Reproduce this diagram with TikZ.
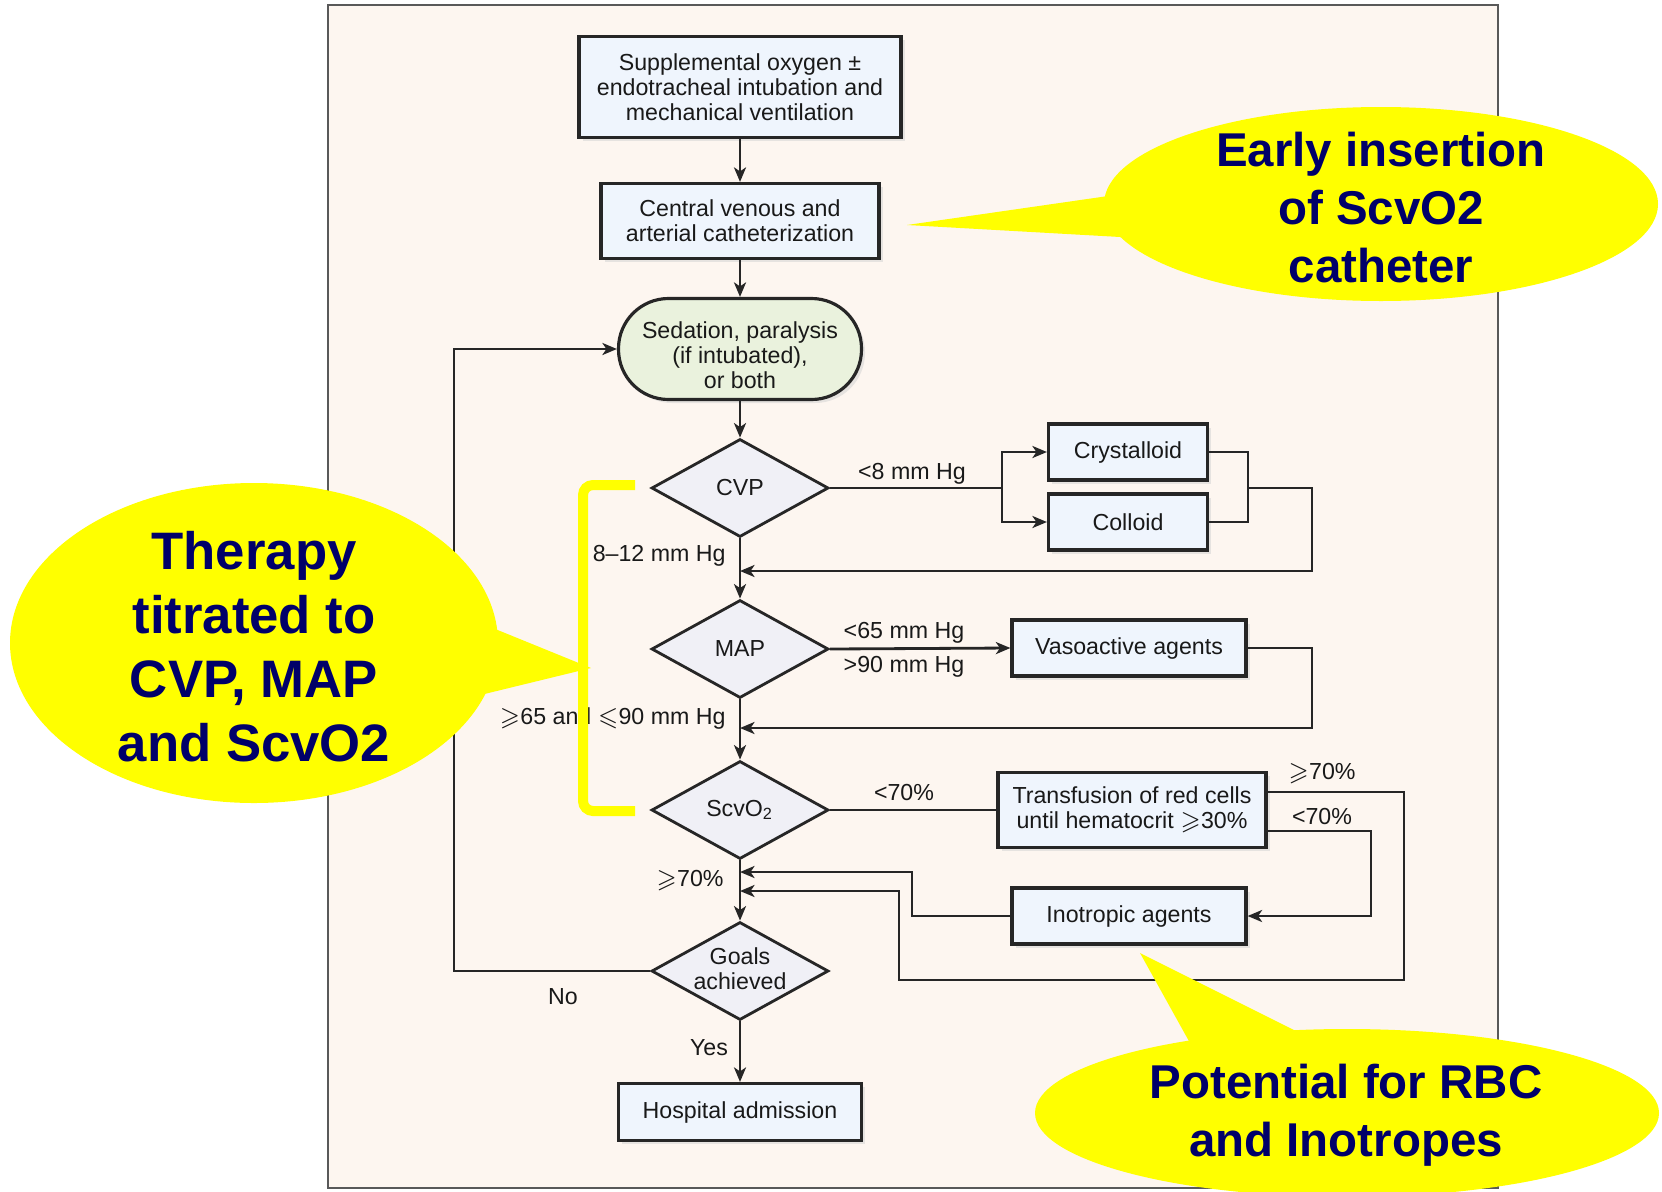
\documentclass[tikz,border=0pt]{standalone}
\usepackage{fontspec}
\setmainfont{Liberation Sans}
\usepackage{amssymb}
\usetikzlibrary{shapes.geometric,arrows.meta,shadows}
\definecolor{framebg}{RGB}{253,246,240}
\definecolor{boxfill}{RGB}{239,245,253}
\definecolor{termfill}{RGB}{234,242,221}
\definecolor{diafill}{RGB}{240,240,246}
\definecolor{callyellow}{RGB}{255,255,0}
\definecolor{navytext}{RGB}{0,0,105}
\begin{document}
\begin{tikzpicture}[x=0.1mm,y=-0.1mm,
  flowtext/.style={font=\fontsize{6.6}{7.1}\selectfont, align=center, text=black!90},
  shadowed/.style={drop shadow={shadow xshift=0.35mm, shadow yshift=-0.35mm, fill=black!18}},
  procbox/.style={flowtext, rectangle, draw=black!85, line width=0.9pt, fill=boxfill, inner sep=0pt, shadowed},
  termbox/.style={flowtext, rectangle, rounded corners=5mm, draw=black!85, line width=0.9pt, fill=termfill, inner sep=0pt, shadowed},
  dia/.style={flowtext, diamond, draw=black!85, line width=0.8pt, fill=diafill, inner sep=0pt, minimum width=17.7mm, minimum height=9.8mm},
  conn/.style={draw=black!85, line width=0.8pt},
  arr/.style={conn, -{Stealth[length=1.45mm,width=1.2mm,inset=0.4mm]}},
  lbl/.style={flowtext, inner sep=0.5pt},
  calltext/.style={align=center, text=navytext, font=\bfseries\fontsize{13.5}{16.5}\selectfont},
]
\useasboundingbox (0,0) rectangle (1662,1191);
\fill[white] (0,0) rectangle (1662,1191);
% frame
\draw[fill=framebg, draw=black!65, line width=0.6pt] (328,5) rectangle (1498,1188);

% main column
\node[procbox, minimum width=32.2mm, minimum height=10.1mm] (oxy) at (740,87) {Supplemental oxygen ±\\endotracheal intubation and\\mechanical ventilation};
\node[procbox, minimum width=27.8mm, minimum height=7.5mm] (cath) at (740,221) {Central venous and\\arterial catheterization};
\node[termbox, minimum width=24.3mm, minimum height=10.1mm] (sed) at (740,349) {};
\node[flowtext] (sedtext) at (740,355) {Sedation, paralysis\\(if intubated),\\or both};
\node[dia] (cvp) at (740,488) {CVP};
\node[dia] (map) at (740,649) {MAP};
\node[dia] (scv) at (740,810) {ScvO\textsubscript{2}};
\node[dia] (goals) at (740,971) {};
\node[flowtext] (goalstext) at (740,969) {Goals\\achieved};
\node[procbox, minimum width=24.3mm, minimum height=5.7mm] (hosp) at (740,1112) {Hospital admission};

% side boxes
\node[procbox, minimum width=15.9mm, minimum height=5.6mm] (cry) at (1128,452) {Crystalloid};
\node[procbox, minimum width=15.9mm, minimum height=5.6mm] (col) at (1128,522) {Colloid};
\node[procbox, minimum width=23.4mm, minimum height=5.6mm] (vaso) at (1129,648) {Vasoactive agents};
\node[procbox, minimum width=26.8mm, minimum height=7.5mm] (trans) at (1132,810) {Transfusion of red cells\\until hematocrit $\geqslant$30\%};
\node[procbox, minimum width=23.4mm, minimum height=5.6mm] (ino) at (1129,916) {Inotropic agents};

% waypoints
\coordinate (split) at (1002,488);
\coordinate (merge) at (1248,488);
\coordinate (cvpR) at (1312,488);
\coordinate (cvpRb) at (1312,571);
\coordinate (cvpret) at (740,571);
\coordinate (vasR) at (1312,728);
\coordinate (mapret) at (740,728);
\coordinate (ta) at (0,792);
\coordinate (tb) at (0,831);
\coordinate (ra) at (1404,792);
\coordinate (rb) at (1404,980);
\coordinate (rc) at (899,980);
\coordinate (rd) at (899,891);
\coordinate (gret2) at (740,891);
\coordinate (c1) at (1371,831);
\coordinate (d1) at (912,916);
\coordinate (d2) at (912,872);
\coordinate (gret1) at (740,872);
\coordinate (loopx) at (454,0);

% main arrows
\draw[arr] (oxy) -- (cath);
\draw[arr] (cath) -- (sed);
\draw[arr] (sed) -- (cvp);
\draw[arr] (cvp) -- (map);
\draw[arr] (map) -- (scv);
\draw[arr] (scv) -- (goals);
\draw[arr] (goals) -- (hosp);

% CVP branch
\draw[conn] (cvp.east) -- (split);
\draw[arr] (split) |- (cry.west);
\draw[arr] (split) |- (col.west);
\draw[conn] (cry.east) -| (merge);
\draw[conn] (col.east) -| (merge);
\draw[arr] (merge) -- (cvpR) -- (cvpRb) -- (cvpret);

% MAP branch
\draw[arr] (map.east) -- (vaso.west);
\draw[arr] (vaso.east) -| (vasR) -- (mapret);

% ScvO2 branch
\draw[conn] (scv.east) -- (trans.west);
\draw[arr] (trans.east |- ta) -- (ra) -- (rb) -- (rc) -- (rd) -- (gret2);
\draw[arr] (trans.east |- tb) -- (c1) -- (c1 |- ino.east) -- (ino.east);
\draw[arr] (ino.west) -- (d1) -- (d2) -- (gret1);

% loop back
\draw[arr] (goals.west) -- (loopx |- goals.west) |- (sed.west);

% labels
\node[lbl] (l8) at (912,474) {<8 mm Hg};
\node[lbl, anchor=east] (l812) at (728,556) {8–12 mm Hg};
\node[lbl] (l65) at (904,633) {<65 mm Hg};
\node[lbl] (l90) at (904,667) {>90 mm Hg};
\node[lbl, anchor=east] (lmid) at (728,718) {$\geqslant$65 and $\leqslant$90 mm Hg};
\node[lbl] (l70a) at (904,792) {<70\%};
\node[lbl] (l70b) at (1322,774) {$\geqslant$70\%};
\node[lbl] (l70c) at (1322,816) {<70\%};
\node[lbl, anchor=east] (l70d) at (726,881) {$\geqslant$70\%};
\node[lbl] (lno) at (563,997) {No};
\node[lbl] (lyes) at (709,1048) {Yes};

% yellow bracket
\draw[callyellow, line width=1mm, rounded corners=1mm] (635,485) -- (583,485) -- (583,811) -- (635,811);

% callouts
\fill[callyellow] (254,643) ellipse [x radius=24.4mm, y radius=16mm];
\fill[callyellow] (478,622) -- (591,668) -- (468,698) -- cycle;
\node[calltext, font=\bfseries\fontsize{15}{18.2}\selectfont] (ctherapy) at (254,647) {Therapy\\titrated to\\CVP, MAP\\and ScvO2};

\fill[callyellow] (1381,204) ellipse [x radius=27.7mm, y radius=9.7mm];
\fill[callyellow] (1122,194) -- (907,225) -- (1138,238) -- cycle;
\node[calltext] (cearly) at (1381,208) {Early insertion\\of ScvO2\\catheter};

\fill[callyellow] (1347,1113) ellipse [x radius=31.2mm, y radius=8.4mm];
\fill[callyellow] (1195,1052) -- (1140,953) -- (1318,1042) -- cycle;
\node[calltext] (cpot) at (1346,1115) {Potential for RBC\\and Inotropes};
\end{tikzpicture}
\end{document}
